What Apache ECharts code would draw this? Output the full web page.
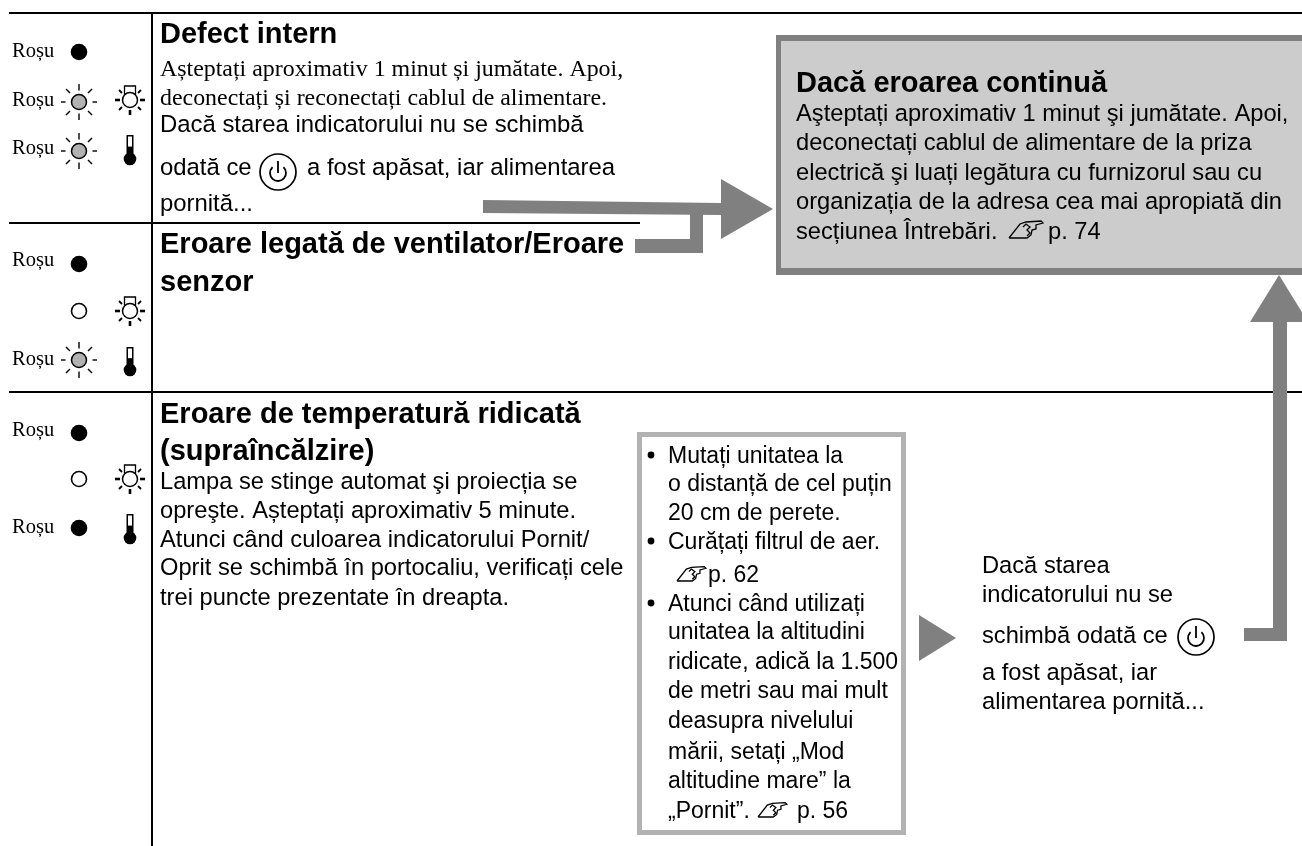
<!DOCTYPE html>
<html><head><meta charset="utf-8">
<style>html,body{margin:0;padding:0;background:#fff}#c{width:1302px;height:846px}</style>
<script src="https://cdn.jsdelivr.net/npm/echarts@6/dist/echarts.min.js"></script>
</head><body><div id="c"></div>
<script>
const indicatorLabel = 'Roșu';
const row1Title = ['Defect intern'];
const row1Serif = ['Așteptați aproximativ 1 minut și jumătate. Apoi,', 'deconectați și reconectați cablul de alimentare.'];
const row1Sans = ['Dacă starea indicatorului nu se schimbă', 'odată ce', 'a fost apăsat, iar alimentarea', 'pornită...'];
const row2Title = ['Eroare legată de ventilator/Eroare', 'senzor'];
const row3Title = ['Eroare de temperatură ridicată', '(supraîncălzire)'];
const row3Body = ['Lampa se stinge automat şi proiecția se', 'opreşte. Așteptați aproximativ 5 minute.', 'Atunci când culoarea indicatorului Pornit/', 'Oprit se schimbă în portocaliu, verificați cele', 'trei puncte prezentate în dreapta.'];
const boxTitle = 'Dacă eroarea continuă';
const boxBody = ['Aşteptați aproximativ 1 minut şi jumătate. Apoi,', 'deconectați cablul de alimentare de la priza', 'electrică şi luați legătura cu furnizorul sau cu', 'organizația de la adresa cea mai apropiată din', 'secțiunea Întrebări.', 'p. 74'];
const checkList = ['Mutați unitatea la', 'o distanță de cel puțin', '20 cm de perete.', 'Curățați filtrul de aer.', 'p. 62', 'Atunci când utilizați', 'unitatea la altitudini', 'ridicate, adică la 1.500', 'de metri sau mai mult', 'deasupra nivelului', 'mării, setați „Mod', 'altitudine mare” la', '„Pornit”.', 'p. 56'];
const sideNote = ['Dacă starea', 'indicatorului nu se', 'schimbă odată ce', 'a fost apăsat, iar', 'alimentarea pornită...'];

const G = [];
const SANS = '"Liberation Sans"', SERIF = '"Liberation Serif"';
const GREY = '#808080', LGREY = '#b2b2b2';
function T(s, x, base, size, opt) {
  opt = opt || {};
  G.push({type:'text', z:10, style:{text:s, x, y:base-0.22*size, fill:'#000', verticalAlign:'middle', align:'left',
    font:(opt.bold?'bold ':'')+size+'px '+(opt.serif?SERIF:SANS)}});
}
function R(x,y,w,h,fill,z){G.push({type:'rect',z:z||1,shape:{x,y,width:w,height:h},style:{fill}});}
function P(points,fill,z){G.push({type:'polygon',z:z||1,shape:{points},style:{fill}});}
function L(x1,y1,x2,y2,w,c,z){G.push({type:'line',z:z||5,shape:{x1,y1,x2,y2},style:{stroke:c||'#000',lineWidth:w}});}
function C(cx,cy,r,fill,stroke,w){G.push({type:'circle',z:5,shape:{cx,cy,r},style:{fill:fill||'none',stroke:stroke||null,lineWidth:w||0}});}
function PL(points,w){G.push({type:'polyline',z:12,shape:{points},style:{stroke:'#000',fill:'none',lineWidth:w||1}});}
function solid(x,y){C(x,y,8.3,'#000');}
function open(x,y){C(x,y,7.5,'#fff','#000',1.6);}
function flash(x,y){
  C(x,y,7.5,LGREY,'#000',1.5);
  L(x-18,y,x-13.5,y,1.4); L(x+13.5,y,x+18,y,1.4);
  L(x,y-18,x,y-11.5,1.4); L(x,y+11.5,x,y+18,1.4);
  L(x-13,y-13,x-9,y-9,1.4); L(x+13,y-13,x+9,y-9,1.4);
  L(x-13,y+13,x-9,y+9,1.4); L(x+13,y+13,x+9,y+9,1.4);
}
function lamp(x,y){
  C(x,y,7.5,'#fff','#000',1.5);
  G.push({type:'rect',z:4,shape:{x:x-5.5,y:y-14,width:11,height:8},style:{fill:'#fff',stroke:'#000',lineWidth:1.3}});
  L(x-15,y,x-10,y,2.6); L(x+10,y,x+15,y,2.6);
  L(x,y+10,x,y+15,2.6);
  L(x-11,y-10,x-8,y-7,1.8); L(x+11,y-10,x+8,y-7,1.8);
  L(x-11,y+10,x-8,y+7,1.8); L(x+11,y+10,x+8,y+7,1.8);
}
function thermo(x,top,by){
  R(x-3.5,top,7,by-top,'#000',5);
  R(x-2,top+1.5,4,(by-top)*0.42,'#fff',6);
  C(x,by,6.3,'#000');
}
function power(cx,cy){
  C(cx,cy,18,'#fff','#000',1.7);
  G.push({type:'arc',z:6,shape:{cx,cy:cy+1,r:8,startAngle:-Math.PI/2+0.75,endAngle:-Math.PI/2-0.75,clockwise:true},style:{stroke:'#000',lineWidth:1.8,fill:'none'}});
  L(cx,cy-11,cx,cy+1,1.8,'#000',7);
}
function hand(x,y,k){ // x,y: lower-left tip of the pointing-hand glyph
  const s=a=>a.map(p=>[x+p[0]*k,y+p[1]*k]);
  PL(s([[0,0],[11,-14],[17,-16],[32,-17],[34,-15],[27,-13],[27,-9],[23,-8],[22,-3],[18,0],[0,0]]),1.3);
  PL(s([[14,-11],[17,-14],[21,-11],[18,-8],[21,-5],[18,-2]]),1.3);
}

// frame
L(9,13,1302,13,2);
L(9,223,640,223,2);
L(9,392,1302,392,2);
L(152,13,152,846,2);

// left status icons
[[56],[105],[153],[265],[364],[435],[532]].forEach(a=>T(indicatorLabel,12,a[0],20.5,{serif:true}));
solid(79,52); flash(79,102); flash(79,151); lamp(130,100); thermo(130,135,159);
solid(79,264); open(79,311); lamp(130,311); flash(79,360); thermo(130,347,370);
solid(79,433); open(79,479); lamp(130,479); solid(79,528); thermo(130,514,538);

// row 1
T(row1Title[0],160,41,29,{bold:true});
T(row1Serif[0],160,75,23.9,{serif:true});
T(row1Serif[1],160,104,23.9,{serif:true});
T(row1Sans[0],160,131,23.9);
T(row1Sans[1],160,174,23.9);
power(278,172);
T(row1Sans[2],307,174,23.9);
T(row1Sans[3],160,210,23.9);

// row 2
T(row2Title[0],160,251,29,{bold:true});
T(row2Title[1],160,289,29,{bold:true});

// row 3
T(row3Title[0],160,421,29,{bold:true});
T(row3Title[1],160,458,29,{bold:true});
[488,517,546,574,604].forEach((y,i)=>T(row3Body[i],160,y,23.7));

// arrow 1
P([[483,200],[721,203],[721,179],[773,209],[721,239],[721,215],[483,213]],GREY);
R(690,214,13,39,GREY); R(635,239,68,14,GREY);

// grey box
R(776,35,526,240,GREY); R(781,41,521,227,'#cccccc',2);
T(boxTitle,796,90,29,{bold:true});
[120,149,179,208,238].forEach((y,i)=>T(boxBody[i],796,y,23.7));
hand(1009,238,1); T(boxBody[5],1048,238,23.7);

// arrow 2
R(1273,322,14,319,GREY,6); R(1244,628,43,13,GREY,6);
P([[1279,275],[1250,322],[1308,322]],GREY,6);

// checklist box
R(637,432,269,403,LGREY); R(642,437,259,393,'#fff',2);
const yy=[462,490,519,548,581,610,638,668,697,727,758,787,817];
[0,3,5].forEach(i=>C(651,yy[i]-7,3.4,'#000'));
checkList.forEach((s,i)=>{
  if(i===4){hand(677,581,0.85);T(s,708,581,23);}
  else if(i<12){T(s,668,yy[i],23);}
  else if(i===12){T(s,668,817,23);}
  else {hand(758,817,0.85);T(s,797,817,23);}
});

// small arrow + note
P([[919,615],[956,638],[919,661]],GREY);
[572,601,642,679,708].forEach((y,i)=>T(sideNote[i],982,y,23.7));
power(1196,637);

const chart = echarts.init(document.getElementById('c'),null,{renderer:'canvas'});
chart.setOption({animation:false,backgroundColor:'#fff',graphic:{elements:G}});
</script></body></html>
